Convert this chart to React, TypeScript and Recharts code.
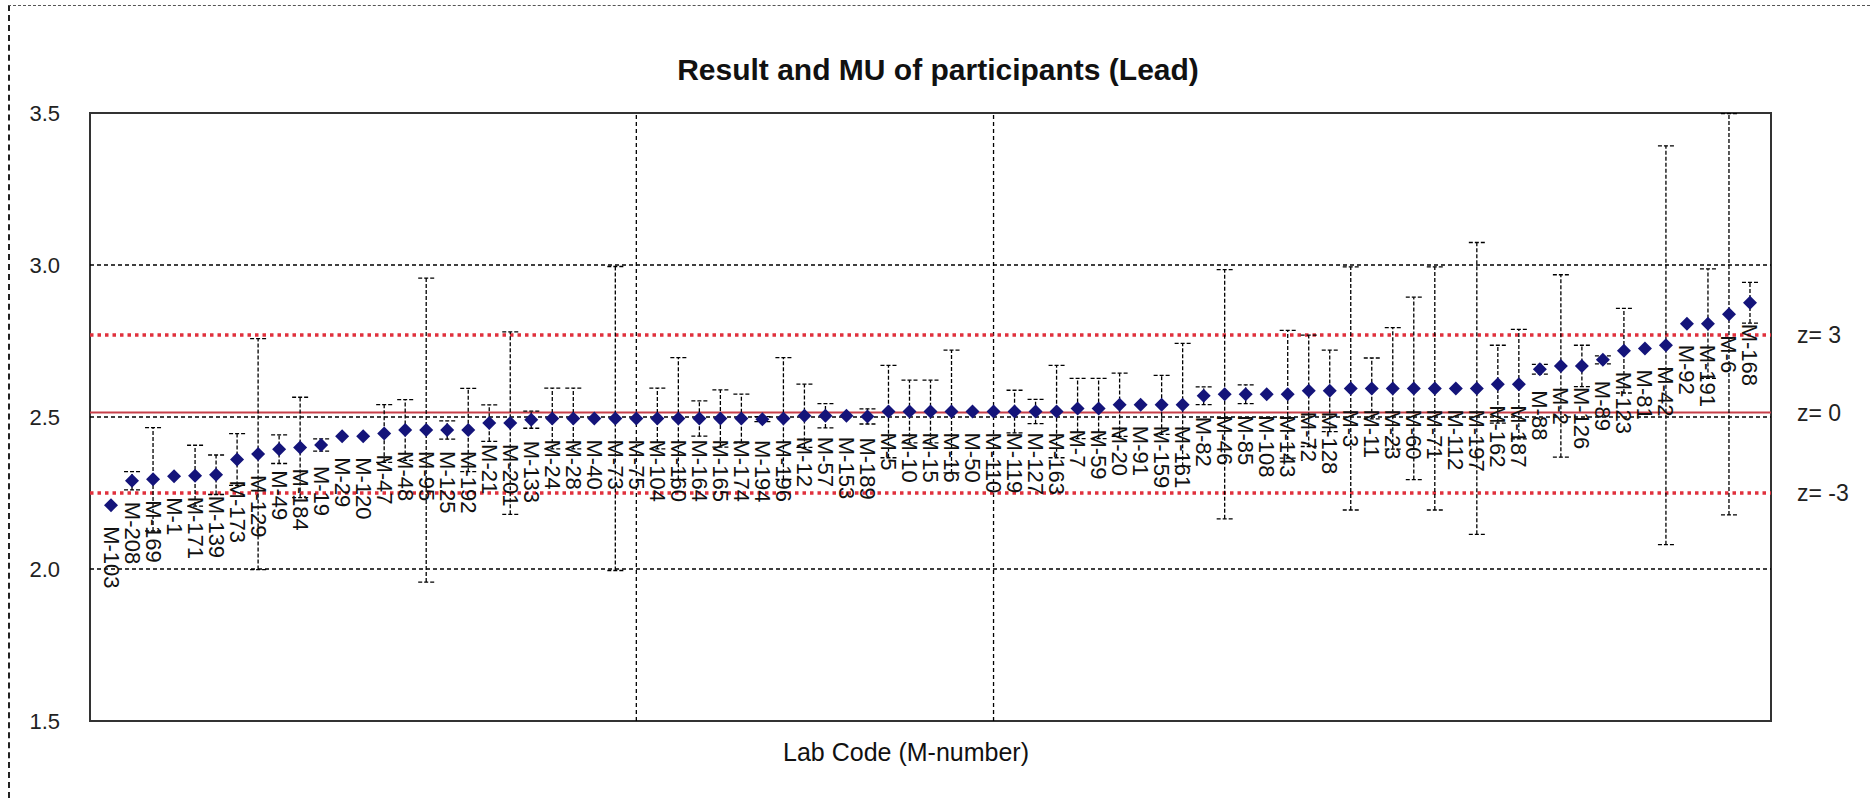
import {
  ScatterChart,
  Scatter,
  XAxis,
  YAxis,
  ErrorBar,
  ReferenceLine,
  ReferenceArea,
} from 'recharts';

const labCodes = [
  'M-103', 'M-208', 'M-169', 'M-1', 'M-171', 'M-139', 'M-173', 'M-129', 'M-49', 'M-184',
  'M-19', 'M-29', 'M-120', 'M-47', 'M-48', 'M-95', 'M-125', 'M-192', 'M-21', 'M-201',
  'M-133', 'M-24', 'M-28', 'M-40', 'M-73', 'M-75', 'M-104', 'M-160', 'M-164', 'M-165',
  'M-174', 'M-194', 'M-196', 'M-12', 'M-57', 'M-153', 'M-189', 'M-5', 'M-10', 'M-15',
  'M-16', 'M-50', 'M-110', 'M-119', 'M-127', 'M-163', 'M-7', 'M-59', 'M-20', 'M-91',
  'M-159', 'M-161', 'M-82', 'M-46', 'M-85', 'M-108', 'M-143', 'M-72', 'M-128', 'M-3',
  'M-11', 'M-23', 'M-60', 'M-71', 'M-112', 'M-197', 'M-162', 'M-187', 'M-88', 'M-2',
  'M-126', 'M-89', 'M-123', 'M-81', 'M-42', 'M-92', 'M-191', 'M-6', 'M-168',
];

const results = [
  2.21, 2.29, 2.295, 2.305, 2.307, 2.31, 2.36, 2.378, 2.394, 2.4,
  2.408, 2.437, 2.437, 2.446, 2.457, 2.457, 2.457, 2.457, 2.48, 2.48,
  2.491, 2.495, 2.495, 2.495, 2.495, 2.495, 2.495, 2.495, 2.495, 2.495,
  2.495, 2.493, 2.495, 2.504, 2.504, 2.504, 2.502, 2.518, 2.518, 2.518,
  2.518, 2.518, 2.518, 2.518, 2.518, 2.518, 2.528, 2.528, 2.54, 2.54,
  2.54, 2.54, 2.57, 2.575, 2.575, 2.575, 2.575, 2.586, 2.586, 2.594,
  2.594, 2.594, 2.594, 2.594, 2.594, 2.594, 2.608, 2.608, 2.657, 2.668,
  2.668, 2.688, 2.718, 2.725, 2.736, 2.807, 2.807, 2.838, 2.876,
];

// expanded uncertainty (null = no bar drawn)
const uncertainty = [
  null, 0.03, 0.17, null, 0.1, 0.065, 0.085, 0.38, 0.047, 0.165,
  0.02, null, null, 0.095, 0.1, 0.5, 0.03, 0.137, 0.06, 0.3,
  0.028, 0.1, 0.1, null, 0.5, null, 0.1, 0.2, 0.058, 0.094,
  0.08, 0.008, 0.2, 0.104, 0.04, null, 0.025, 0.152, 0.103, 0.103,
  0.202, null, null, 0.07, 0.04, 0.152, 0.099, 0.099, 0.104, null,
  0.097, 0.202, 0.029, 0.41, 0.031, null, 0.21, 0.183, 0.134, 0.4,
  0.1, 0.2, 0.3, 0.4, null, 0.48, 0.128, 0.18, 0.016, 0.3,
  0.068, 0.013, 0.139, null, 0.656, null, 0.18, 0.66, 0.067,
];

const yTicks = [1.5, 2.0, 2.5, 3.0, 3.5];
const gridY = [2.0, 2.5, 3.0];
const gridX = [26, 43];
const zLines = [
  { z: 'z= 3', value: 2.77 },
  { z: 'z= 0', value: 2.515 },
  { z: 'z= -3', value: 2.25 },
];

const FONT = '"Liberation Sans", Arial, sans-serif';

const data = labCodes.map((code, i) => ({
  x: i + 1,
  y: results[i],
  mu: uncertainty[i],
  code,
}));

function Diamond(props: any) {
  const { cx, cy, payload } = props;
  const r = 7;
  const ly = cy + 21;
  return (
    <g>
      <polygon
        points={`${cx},${cy - r} ${cx + r},${cy} ${cx},${cy + r} ${cx - r},${cy}`}
        fill="#14147a"
      />
      <text
        x={cx}
        y={ly}
        transform={`rotate(90 ${cx} ${ly})`}
        fontSize={22}
        fontFamily={FONT}
        dominantBaseline="central"
        fill="#111"
      >
        {payload.code}
      </text>
    </g>
  );
}

export default function App() {
  return (
    <div style={{ position: 'absolute', left: 0, top: 0, width: 1870, height: 798, background: '#fff', fontFamily: FONT }}>
      <div
        style={{
          position: 'absolute',
          left: 8,
          top: 5,
          right: 0,
          bottom: 0,
          borderTop: '1px dashed #555',
          borderLeft: '2px dashed #222',
        }}
      />
      <div
        style={{
          position: 'absolute',
          left: 0,
          top: 55,
          width: 1876,
          textAlign: 'center',
          fontSize: 30,
          lineHeight: '30px',
          fontWeight: 'bold',
          color: '#111',
        }}
      >
        Result and MU of participants (Lead)
      </div>
      <div
        style={{
          position: 'absolute',
          left: 0,
          top: 740,
          width: 1812,
          textAlign: 'center',
          fontSize: 25,
          lineHeight: '25px',
          color: '#111',
        }}
      >
        Lab Code (M-number)
      </div>
      <ScatterChart
        width={1870}
        height={798}
        margin={{ top: 113, right: 99, bottom: 77, left: 0 }}
        style={{ position: 'absolute', left: 0, top: 0 }}
      >
        <XAxis type="number" dataKey="x" domain={[0, 80]} hide height={0} />
        <YAxis
          type="number"
          dataKey="y"
          domain={[1.5, 3.5]}
          ticks={yTicks}
          width={90}
          axisLine={false}
          tickLine={false}
          tickSize={0}
          tickMargin={30}
          tickFormatter={(v: number) => v.toFixed(1)}
          tick={{ fontSize: 22, fill: '#222', fontFamily: FONT }}
        />
        {gridY.map((v) => (
          <ReferenceLine key={`gy${v}`} y={v} stroke="#000" strokeWidth={1.3} strokeDasharray="4 3" />
        ))}
        {gridX.map((v) => (
          <ReferenceLine key={`gx${v}`} x={v} stroke="#000" strokeWidth={1.3} strokeDasharray="4 3" />
        ))}
        {zLines.map((l) => (
          <ReferenceLine
            key={l.z}
            y={l.value}
            stroke={l.value === 2.515 ? '#c8404a' : '#e0303c'}
            strokeWidth={l.value === 2.515 ? 2 : 3.5}
            strokeDasharray={l.value === 2.515 ? undefined : '3.5 4'}
            label={{
              value: l.z,
              position: 'right',
              offset: 26,
              fill: '#222',
              fontSize: 23,
              fontFamily: FONT,
            }}
          />
        ))}
        <ReferenceArea x1={0} x2={80} y1={1.5} y2={3.5} fill="none" stroke="#333" strokeWidth={2} />
        <Scatter data={data} dataKey="y" shape={Diamond} isAnimationActive={false}>
          <ErrorBar
            dataKey="mu"
            direction="y"
            width={8}
            stroke="#000"
            strokeWidth={1.3}
            strokeDasharray="4 2"
          />
        </Scatter>
      </ScatterChart>
    </div>
  );
}
